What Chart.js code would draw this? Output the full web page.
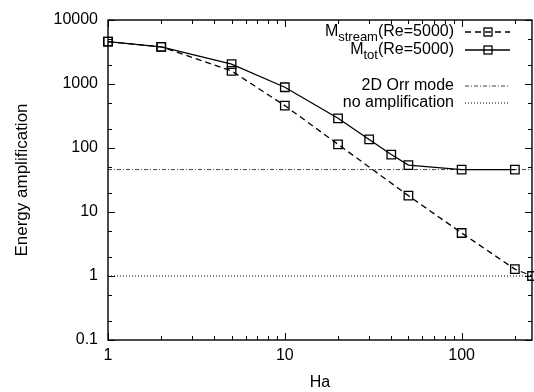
<!DOCTYPE html>
<html>
<head>
<meta charset="utf-8">
<script src="https://cdn.jsdelivr.net/npm/chart.js@4.4.1/dist/chart.umd.min.js"></script>
<style>
    html, body { margin: 0; padding: 0; background: #fff; }
    #wrap { width: 534px; height: 392px; }
</style>
</head>
<body>
<div id="wrap"><canvas id="grafico" width="534" height="392"></canvas></div>
<script>
// valores
const haStream = [1, 2, 5, 10, 20, 50, 100, 200, 250];
const mStream = [4600, 3800, 1600, 460, 114, 18, 4.7, 1.28, 1.0];

const haTot = [1, 2, 5, 10, 20, 30, 40, 50, 100, 200];
const mTot = [4600, 3800, 2050, 890, 291, 136, 79, 54, 46, 46];

const orrLevel = 46;   // 2D Orr mode
const noAmpLevel = 1;  // no amplification
const haRange = [1, 250];

const xTicks = [1, 10, 100];
const yTicks = [0.1, 1, 10, 100, 1000, 10000];
const yTickLabels = ['0.1', '1', '10', '100', '1000', '10000'];

const FONTE = '"Liberation Sans", Arial, sans-serif';

function pares(xs, ys) {
    return xs.map((x, i) => ({x: x, y: ys[i]}));
}

// moldura, ticks para dentro e legenda (estilo gnuplot)
const molduraPlugin = {
    id: 'moldura',
    afterDatasetsDraw(chart) {
        const ctx = chart.ctx;
        const a = chart.chartArea;
        const sx = chart.scales.x;
        const sy = chart.scales.y;
        ctx.save();
        ctx.strokeStyle = '#000';
        ctx.lineWidth = 1.4;
        ctx.setLineDash([]);
        ctx.strokeRect(a.left, a.top, a.right - a.left, a.bottom - a.top);

        ctx.lineWidth = 1;
        ctx.beginPath();
        // eixo x: decadas e subdivisoes 2..9
        for (let d = 1; d <= 100; d *= 10) {
            for (let k = 1; k <= 9; k++) {
                const v = d * k;
                if (v > haRange[1]) break;
                const px = Math.round(sx.getPixelForValue(v)) + 0.5;
                const len = k === 1 ? 7 : 4;
                ctx.moveTo(px, a.bottom); ctx.lineTo(px, a.bottom - len);
                ctx.moveTo(px, a.top); ctx.lineTo(px, a.top + len);
            }
        }
        // eixo y: decadas e 2, 5
        for (let d = 0.1; d <= 10000; d *= 10) {
            [1, 2, 5].forEach(k => {
                const v = d * k;
                if (v > 10001) return;
                const py = Math.round(sy.getPixelForValue(v)) + 0.5;
                const len = k === 1 ? 7 : 4;
                ctx.moveTo(a.left, py); ctx.lineTo(a.left + len, py);
                ctx.moveTo(a.right, py); ctx.lineTo(a.right - len, py);
            });
        }
        ctx.stroke();

        // legenda
        const xTexto = 454;
        const x0 = 465, x1 = 510, xm = 488;
        const linhas = [
            {y: 32, base: 'M', sub: 'stream', resto: '(Re=5000)', ds: chart.data.datasets[0], marca: true},
            {y: 50, base: 'M', sub: 'tot', resto: '(Re=5000)', ds: chart.data.datasets[1], marca: true},
            {y: 86, base: '2D Orr mode', sub: '', resto: '', ds: chart.data.datasets[2], marca: false},
            {y: 103, base: 'no amplification', sub: '', resto: '', ds: chart.data.datasets[3], marca: false}
        ];
        ctx.fillStyle = '#000';
        ctx.textBaseline = 'middle';
        ctx.textAlign = 'left';
        linhas.forEach(l => {
            ctx.font = '16px ' + FONTE;
            const wb = ctx.measureText(l.base).width;
            const wr = ctx.measureText(l.resto).width;
            ctx.font = '13px ' + FONTE;
            const ws = l.sub ? ctx.measureText(l.sub).width : 0;
            let x = xTexto - (wb + ws + wr);
            ctx.font = '16px ' + FONTE;
            ctx.fillText(l.base, x, l.y);
            x += wb;
            if (l.sub) {
                ctx.font = '13px ' + FONTE;
                ctx.fillText(l.sub, x, l.y + 5);
                x += ws;
            }
            ctx.font = '16px ' + FONTE;
            ctx.fillText(l.resto, x, l.y);

            ctx.strokeStyle = l.ds.borderColor;
            ctx.lineWidth = l.ds.borderWidth;
            ctx.setLineDash(l.ds.borderDash || []);
            ctx.beginPath();
            ctx.moveTo(x0, l.y); ctx.lineTo(x1, l.y);
            ctx.stroke();
            if (l.marca) {
                ctx.setLineDash([]);
                ctx.lineWidth = 1.3;
                ctx.strokeRect(xm - 4, l.y - 4, 8, 8);
            }
        });
        ctx.restore();
    }
};

const ctx = document.getElementById('grafico').getContext('2d');

new Chart(ctx, {
    type: 'line',
    data: {
        datasets: [{
            label: 'M_stream(Re=5000)',
            data: pares(haStream, mStream),
            borderColor: '#000',
            borderWidth: 1.3,
            borderDash: [6, 4],
            pointStyle: 'rect',
            pointRadius: 6,
            pointBorderWidth: 1.3,
            pointBackgroundColor: 'rgba(0,0,0,0)',
            pointBorderColor: '#000',
            clip: false,
            order: 1
        }, {
            label: 'M_tot(Re=5000)',
            data: pares(haTot, mTot),
            borderColor: '#000',
            borderWidth: 1.3,
            pointStyle: 'rect',
            pointRadius: 6,
            pointBorderWidth: 1.3,
            pointBackgroundColor: 'rgba(0,0,0,0)',
            pointBorderColor: '#000',
            clip: false,
            order: 0
        }, {
            label: '2D Orr mode',
            data: pares(haRange, [orrLevel, orrLevel]),
            borderColor: '#444',
            borderWidth: 1,
            borderDash: [4, 2, 1, 2],
            pointRadius: 0,
            order: 2
        }, {
            label: 'no amplification',
            data: pares(haRange, [noAmpLevel, noAmpLevel]),
            borderColor: '#000',
            borderWidth: 1.1,
            borderDash: [1, 2],
            pointRadius: 0,
            order: 3
        }]
    },
    options: {
        responsive: false,
        animation: false,
        layout: { autoPadding: false, padding: { left: 0, right: 2, top: 20, bottom: 0 } },
        plugins: {
            legend: { display: false },
            tooltip: { enabled: false }
        },
        scales: {
            x: {
                type: 'logarithmic',
                min: haRange[0],
                max: haRange[1],
                afterBuildTicks: axis => { axis.ticks = xTicks.map(v => ({value: v})); },
                afterFit: axis => {
                    axis.height = 52;
                    axis.paddingLeft = 0;
                    axis.paddingRight = 0;
                },
                grid: { display: false, drawTicks: false },
                border: { display: false },
                ticks: {
                    autoSkip: false,
                    maxRotation: 0,
                    padding: 6,
                    color: '#000',
                    font: { family: FONTE, size: 16 },
                    callback: v => String(v)
                },
                title: {
                    display: true,
                    text: 'Ha',
                    color: '#000',
                    padding: { top: 0, bottom: 0 },
                    font: { family: FONTE, size: 16 }
                }
            },
            y: {
                type: 'logarithmic',
                min: 0.1,
                max: 10000,
                afterBuildTicks: axis => { axis.ticks = yTicks.map(v => ({value: v})); },
                afterFit: axis => {
                    axis.width = 108;
                    axis.paddingTop = 0;
                    axis.paddingBottom = 0;
                },
                grid: { display: false, drawTicks: false },
                border: { display: false },
                ticks: {
                    autoSkip: false,
                    padding: 10,
                    color: '#000',
                    font: { family: FONTE, size: 16 },
                    callback: v => yTickLabels[yTicks.indexOf(v)] ?? ''
                },
                title: {
                    display: true,
                    text: 'Energy amplification',
                    color: '#000',
                    padding: { top: 12, bottom: 0 },
                    font: { family: FONTE, size: 17 }
                }
            }
        }
    },
    plugins: [molduraPlugin]
});
</script>
</body>
</html>
